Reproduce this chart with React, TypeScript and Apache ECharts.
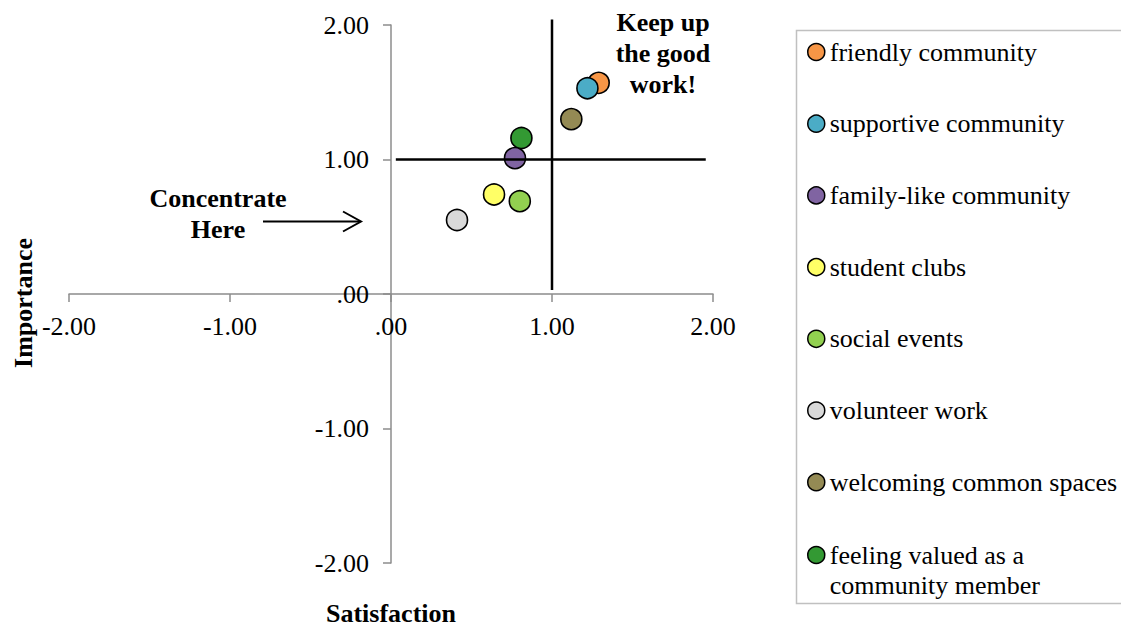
import React, { useEffect, useRef } from "react";
import * as echarts from "echarts";

const seriesNames = [
  "friendly community",
  "supportive community",
  "family-like community",
  "student clubs",
  "social events",
  "volunteer work",
  "welcoming common spaces",
  "feeling valued as a community member",
];
const satisfaction = [1.29, 1.22, 0.77, 0.64, 0.8, 0.41, 1.12, 0.81];
const importance = [1.57, 1.53, 1.01, 0.74, 0.69, 0.55, 1.3, 1.16];
const colors = ["#F79646", "#4BACC6", "#8064A2", "#FFFF66", "#92D050", "#D9D9D9", "#948A54", "#339933"];
const seriesZ = [2, 3, 5, 2, 2, 2, 2, 4];

const axisMin = -2;
const axisMax = 2;
const axisStep = 1;

// quadrant divider lines (data units)
const verticalDivider = [
  [1, 2.04],
  [1, 0.03],
];
const horizontalDivider = [
  [0.03, 1],
  [1.955, 1],
];

const FONT = "Liberation Serif";

const fmt = (v: number) => (v === 0 ? ".00" : v.toFixed(2).replace(/^(-?)0\./, "$1."));

export default function App() {
  const ref = useRef<HTMLDivElement>(null);
  useEffect(() => {
    document.body.style.margin = "0";
    const chart = echarts.init(ref.current!, undefined, { renderer: "svg" });
    const scatterSeries = seriesNames.map((name, i) => ({
      type: "scatter",
      name,
      z: seriesZ[i],
      symbol: "circle",
      symbolSize: 21,
      itemStyle: { color: colors[i], borderColor: "#000", borderWidth: 1.6, opacity: 1 },
      data: [[satisfaction[i], importance[i]]],
    }));
    const dividerSeries = [verticalDivider, horizontalDivider].map((d, i) => ({
      type: "line",
      name: "divider" + i,
      data: d,
      z: 10,
      clip: false,
      silent: true,
      showSymbol: false,
      symbol: "none",
      lineStyle: { color: "#000", width: 2.5 },
    }));
    const axisCommon = {
      type: "value",
      min: axisMin,
      max: axisMax,
      interval: axisStep,
      splitLine: { show: false },
      axisLine: { show: true, onZero: true, lineStyle: { color: "#8c8c8c", width: 1.5 } },
      axisTick: { show: true, length: 8, lineStyle: { color: "#8c8c8c", width: 1.5 } },
    };
    const legendText = { fontFamily: FONT, fontSize: 26, color: "#000", lineHeight: 30 };
    chart.setOption({
      animation: false,
      textStyle: { fontFamily: FONT },
      grid: { left: 69, right: 408, top: 25, bottom: 63, containLabel: false },
      xAxis: {
        ...axisCommon,
        axisLabel: { formatter: fmt, margin: -250, fontSize: 26, fontFamily: FONT, color: "#000" },
      },
      yAxis: {
        ...axisCommon,
        axisLabel: { formatter: fmt, margin: -300, fontSize: 26, fontFamily: FONT, color: "#000" },
      },
      legend: [
        {
          orient: "vertical",
          left: 807,
          top: 37,
          padding: 0,
          itemGap: 41.7,
          itemWidth: 17,
          itemHeight: 17,
          icon: "circle",
          itemStyle: { borderColor: "#000", borderWidth: 1.5 },
          selectedMode: false,
          textStyle: legendText,
          data: seriesNames.slice(0, 7),
        },
        {
          orient: "vertical",
          left: 807,
          top: 510,
          padding: 0,
          itemWidth: 17,
          itemHeight: 17,
          icon: "circle",
          itemStyle: { borderColor: "#000", borderWidth: 1.5 },
          selectedMode: false,
          textStyle: legendText,
          formatter: () => "\nfeeling valued as a\ncommunity member",
          data: seriesNames.slice(7),
        },
      ],
      series: [...scatterSeries, ...dividerSeries],
      graphic: [
        {
          type: "rect",
          shape: { x: 796.5, y: 30.5, width: 340, height: 573 },
          style: { fill: "none", stroke: "#c0c0c0", lineWidth: 1.5 },
          silent: true,
        },
        {
          type: "text",
          x: 663,
          y: 53,
          style: {
            text: "Keep up\nthe good\nwork!",
            fill: "#000",
            fontFamily: FONT,
            fontSize: 26,
            fontWeight: "bold",
            lineHeight: 31,
            align: "center",
            verticalAlign: "middle",
          },
        },
        {
          type: "text",
          x: 218,
          y: 214,
          style: {
            text: "Concentrate\nHere",
            fill: "#000",
            fontFamily: FONT,
            fontSize: 26,
            fontWeight: "bold",
            lineHeight: 31,
            align: "center",
            verticalAlign: "middle",
          },
        },
        {
          type: "line",
          shape: { x1: 263, y1: 221.5, x2: 360, y2: 221.5 },
          style: { stroke: "#000", lineWidth: 2 },
        },
        {
          type: "polyline",
          shape: { points: [[343, 211.5], [361, 221.5], [343, 231.5]] },
          style: { stroke: "#000", lineWidth: 2, fill: "none" },
        },
        {
          type: "text",
          x: 23,
          y: 303,
          rotation: Math.PI / 2,
          style: {
            text: "Importance",
            fill: "#000",
            fontFamily: FONT,
            fontSize: 26,
            fontWeight: "bold",
            align: "center",
            verticalAlign: "middle",
          },
        },
        {
          type: "text",
          x: 391,
          y: 613,
          style: {
            text: "Satisfaction",
            fill: "#000",
            fontFamily: FONT,
            fontSize: 26,
            fontWeight: "bold",
            align: "center",
            verticalAlign: "middle",
          },
        },
      ],
    });
    return () => chart.dispose();
  }, []);
  return <div ref={ref} style={{ width: 1121, height: 626 }} />;
}
